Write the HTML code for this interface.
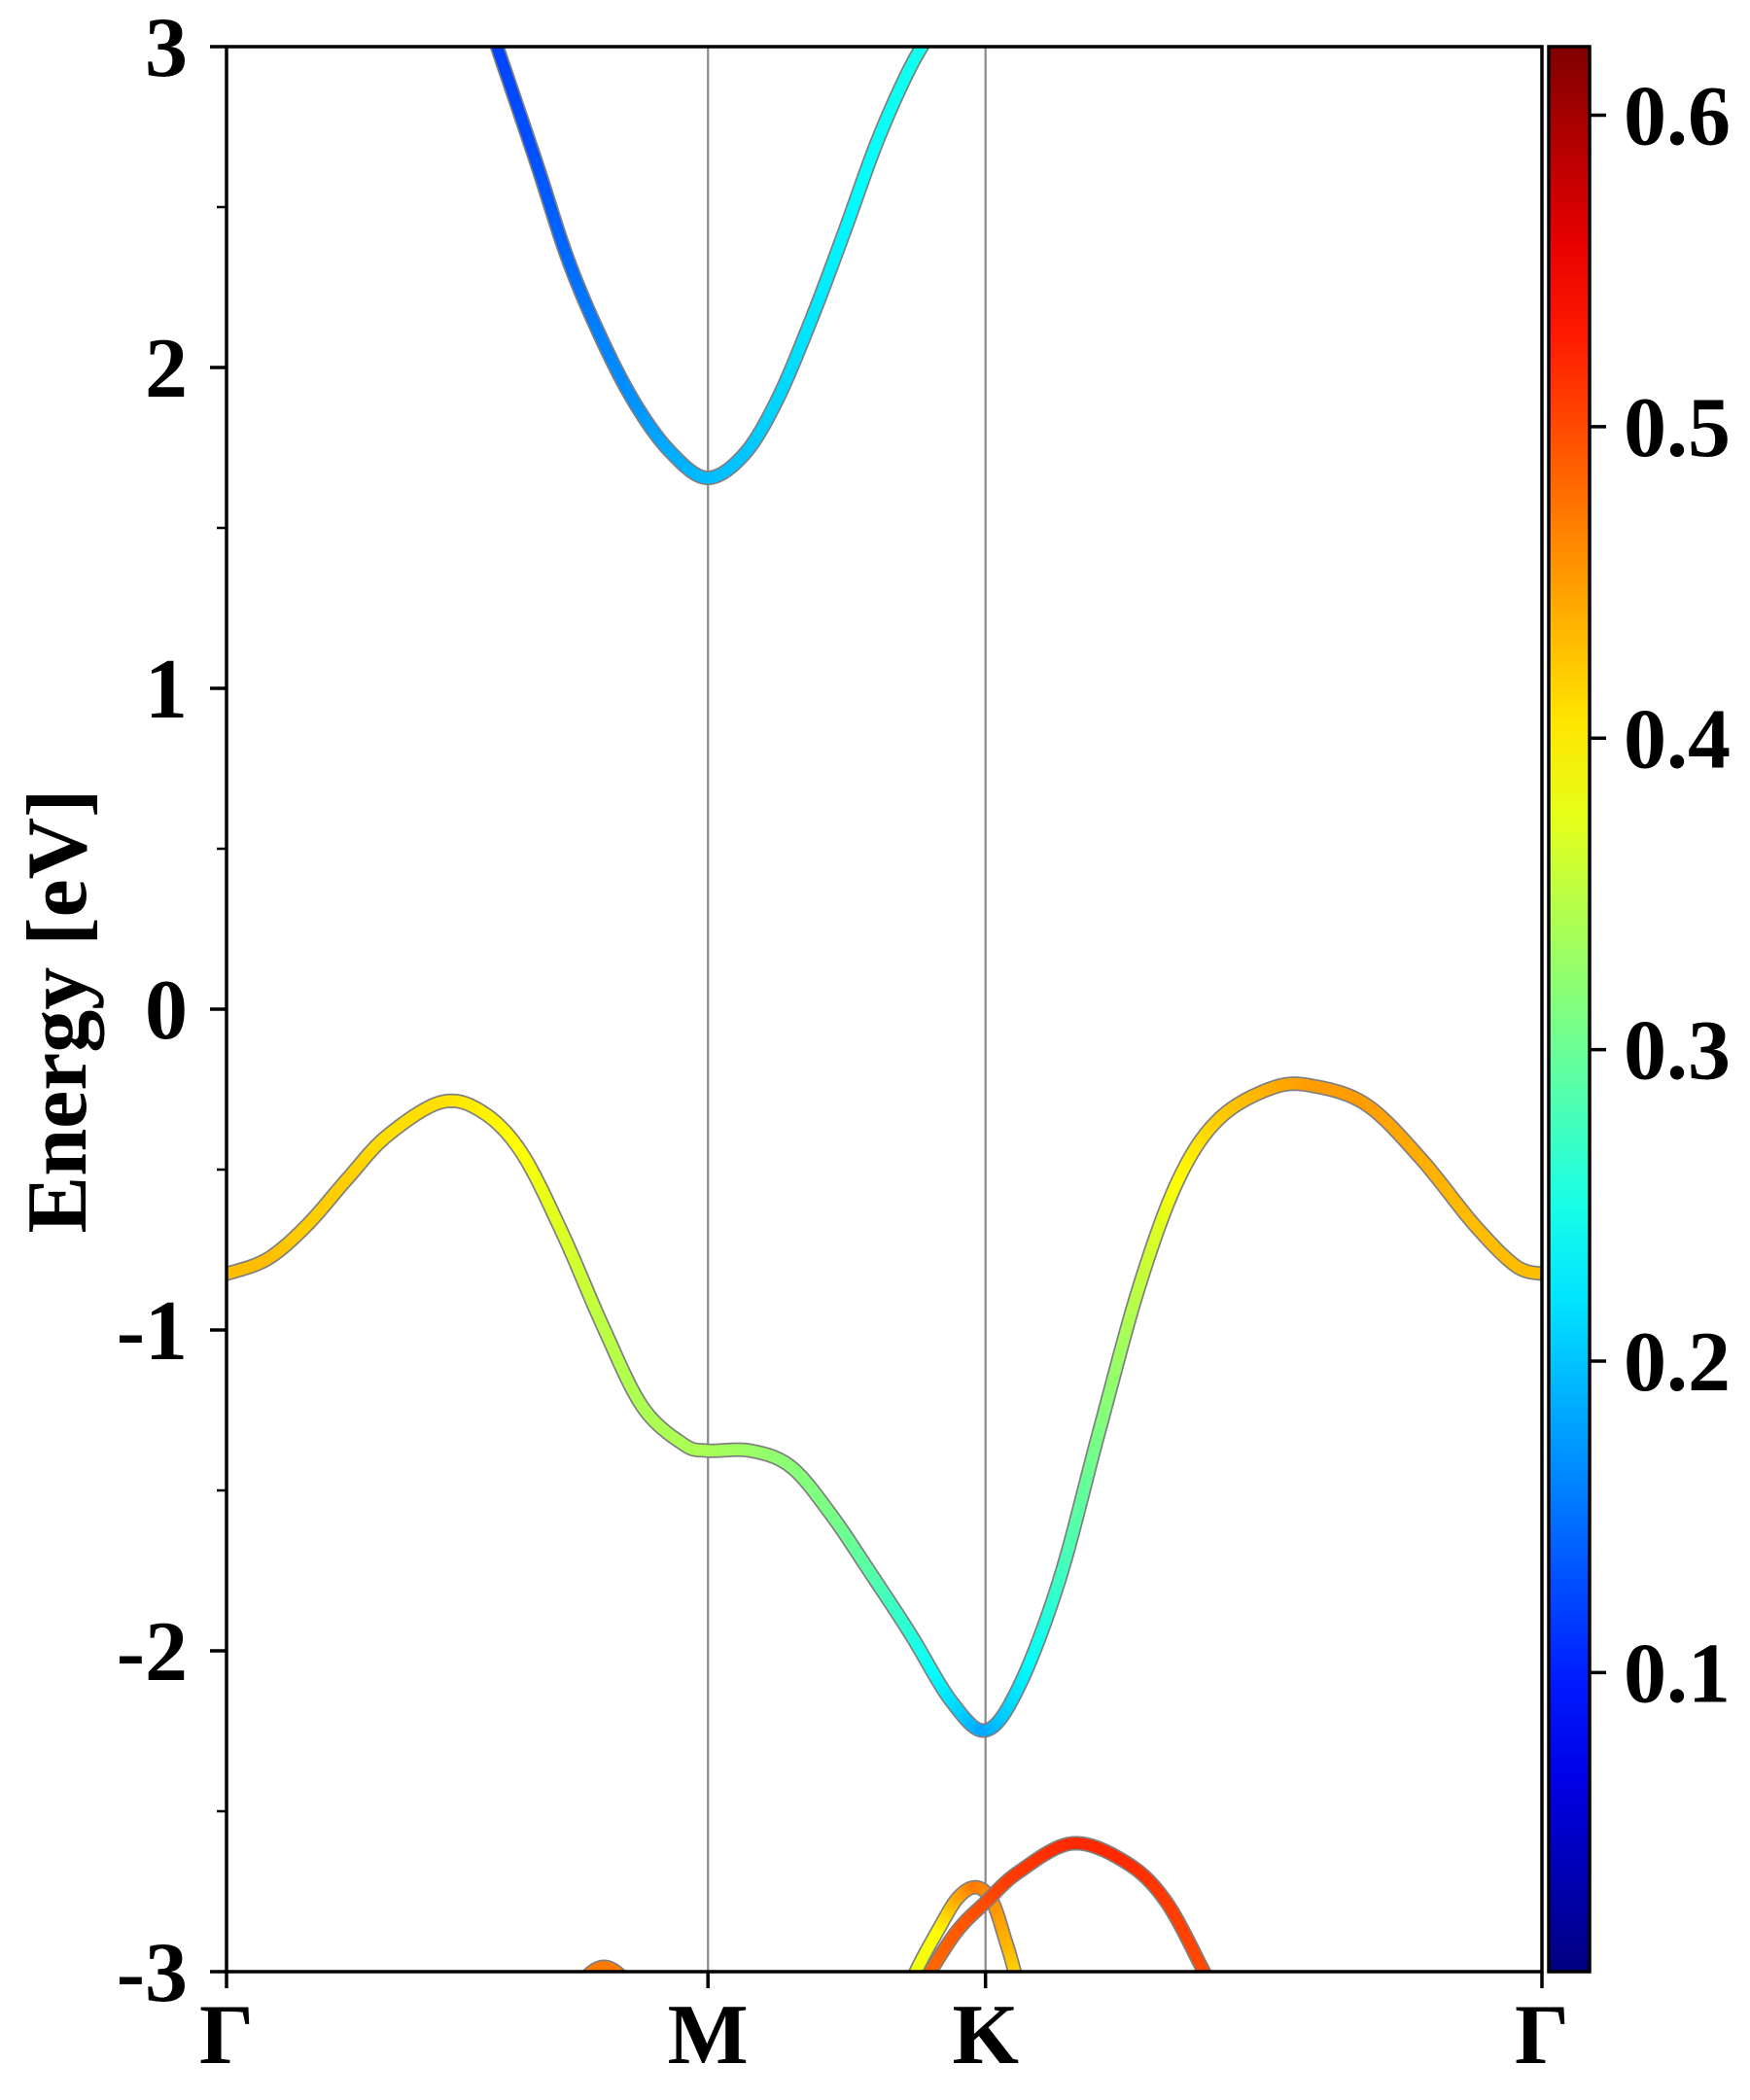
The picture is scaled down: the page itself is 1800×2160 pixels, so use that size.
<!DOCTYPE html>
<html><head><meta charset="utf-8"><style>
html,body{margin:0;padding:0;background:#fff}
svg{display:block}
text{font-family:"Liberation Serif","Times New Roman",serif;font-weight:bold;fill:#000}
</style></head><body>
<svg id="chart" width="1800" height="2160" viewBox="0 0 1800 2160" xmlns="http://www.w3.org/2000/svg">
<defs>
<clipPath id="plotclip"><rect x="233" y="48" width="1353" height="1980"/></clipPath>
<linearGradient id="jetgrad" x1="0" y1="1" x2="0" y2="0"></linearGradient>
</defs>
<g id="vlines"></g>
<g id="bands" clip-path="url(#plotclip)"></g>
<g id="axes"></g>
<g id="cbar"></g>
<text font-family="Liberation Serif, serif" font-weight="bold" transform="translate(88,1040) rotate(-90)" text-anchor="middle" font-size="88">Energy [eV]</text>
</svg>
<script>
const NS="http://www.w3.org/2000/svg";
// ---- data ----
const kTickLabels=["Γ","M","K","Γ"];
const kTickPos=[0,0.366,0.577,1];
const yTicks=[3,2,1,0,-1,-2,-3];
const yMinor=[2.5,1.5,0.5,-0.5,-1.5,-2.5];
const cbTicks=[0.1,0.2,0.3,0.4,0.5,0.6];
const cbMin=0.004, cbMax=0.622;
const condK=[0.204,0.235,0.260,0.286,0.311,0.337,0.365,0.393,0.418,0.444,0.469,0.495,0.520,0.541];
const condE=[3.02,2.645,2.332,2.081,1.885,1.739,1.656,1.727,1.894,2.144,2.415,2.708,2.937,3.08];
const condW=[0.12,0.13,0.145,0.16,0.17,0.185,0.195,0.2,0.21,0.22,0.23,0.24,0.245,0.25];
const valK=[0,0.031,0.061,0.092,0.122,0.163,0.194,0.224,0.255,0.286,0.316,0.347,0.365,0.398,0.429,0.459,0.490,0.520,0.551,0.577,0.602,0.633,0.663,0.694,0.724,0.755,0.796,0.827,0.867,0.908,0.949,0.980,1.0];
const valE=[-0.825,-0.779,-0.674,-0.528,-0.395,-0.290,-0.319,-0.445,-0.695,-0.987,-1.238,-1.355,-1.376,-1.376,-1.426,-1.572,-1.760,-1.948,-2.157,-2.248,-2.115,-1.781,-1.322,-0.862,-0.528,-0.340,-0.244,-0.240,-0.299,-0.466,-0.674,-0.800,-0.825];
const valW=[0.43,0.43,0.42,0.42,0.41,0.41,0.40,0.39,0.37,0.35,0.34,0.34,0.34,0.33,0.32,0.31,0.29,0.26,0.22,0.18,0.22,0.27,0.31,0.35,0.39,0.42,0.44,0.45,0.45,0.44,0.43,0.43,0.43];
const lowAK=[0.520,0.535,0.556,0.578,0.602,0.643,0.684,0.714,0.743,0.755];
const lowAE=[-3.1,-3.0,-2.87,-2.78,-2.69,-2.60,-2.66,-2.78,-3.0,-3.1];
const lowAW=[0.46,0.48,0.49,0.50,0.51,0.52,0.52,0.51,0.50,0.50];
const lowBK=[0.515,0.524,0.541,0.556,0.570,0.582,0.592,0.599,0.602];
const lowBE=[-3.1,-3.0,-2.87,-2.77,-2.737,-2.78,-2.9,-3.0,-3.08];
const lowBW=[0.40,0.38,0.39,0.44,0.47,0.46,0.44,0.42,0.42];
const lowCK=[0.262,0.275,0.287,0.299,0.312];
const lowCE=[-3.08,-3.01,-2.985,-3.01,-3.08];
const lowCW=[0.47,0.47,0.47,0.47,0.47];
// ---- scales ----
const X0=233,X1=1586,Y0=48,Y1=2028;
const xs=k=>X0+k*(X1-X0);
const ys=e=>Y1-(e+3)/6*(Y1-Y0);
const cs=v=>Y1-(v-cbMin)/(cbMax-cbMin)*(Y1-Y0);
function jet(v){
  let t=(v-cbMin)/(cbMax-cbMin);t=Math.max(0,Math.min(1,t));
  const f=x=>Math.max(0,Math.min(1,x));
  const r=f(1.5-Math.abs(4*t-3)),g=f(1.5-Math.abs(4*t-2)),b=f(1.5-Math.abs(4*t-1));
  return `rgb(${Math.round(r*255)},${Math.round(g*255)},${Math.round(b*255)})`;
}
function mk(tag,attrs,parent){const e=document.createElementNS(NS,tag);for(const a in attrs)e.setAttribute(a,attrs[a]);parent.appendChild(e);return e;}
const vl=document.getElementById('vlines');
[kTickPos[1],kTickPos[2]].forEach(k=>{
  const l=mk('line',{x1:xs(k),x2:xs(k),y1:Y0,y2:Y1,stroke:'#8a8a8a','stroke-width':2.2},vl);
  
  
});
const bandsG=document.getElementById('bands');
function drawBand(K,E,W,name){
  const g=mk('g',{},bandsG);
  
  
  const P=K.map((k,i)=>[xs(k),ys(E[i])]);
  const pts=[],wts=[];const N=12;
  for(let i=0;i<P.length-1;i++){
    const p0=P[Math.max(0,i-1)],p1=P[i],p2=P[i+1],p3=P[Math.min(P.length-1,i+2)];
    for(let j=0;j<N;j++){const t=j/N,t2=t*t,t3=t2*t;
      const c=(a,b,cc,d)=>0.5*((2*b)+(-a+cc)*t+(2*a-5*b+4*cc-d)*t2+(-a+3*b-3*cc+d)*t3);
      pts.push([c(p0[0],p1[0],p2[0],p3[0]),c(p0[1],p1[1],p2[1],p3[1])]);
      wts.push(W[i]+(W[i+1]-W[i])*t);}
  }
  pts.push(P[P.length-1]);wts.push(W[W.length-1]);
  mk('polyline',{points:pts.map(p=>p.join(',')).join(' '),fill:'none',stroke:'#808080','stroke-width':15,'stroke-linejoin':'round','stroke-linecap':'round'},g);
  for(let i=0;i<pts.length-1;i++){
    mk('line',{x1:pts[i][0],y1:pts[i][1],x2:pts[i+1][0],y2:pts[i+1][1],stroke:jet((wts[i]+wts[i+1])/2),'stroke-width':11.5,'stroke-linecap':'round'},g);
  }
}
drawBand(lowCK,lowCE,lowCW,'band-low-c');
drawBand(lowBK,lowBE,lowBW,'band-low-b');
drawBand(lowAK,lowAE,lowAW,'band-low-a');
drawBand(valK,valE,valW,'valence-band');
drawBand(condK,condE,condW,'conduction-band');
const ax=document.getElementById('axes');
const fr=mk('rect',{x:X0,y:Y0,width:X1-X0,height:Y1-Y0,fill:'none',stroke:'#000','stroke-width':3.5},ax);


const FF="Liberation Serif, serif";
yTicks.forEach(v=>{
  mk('line',{x1:X0-17,x2:X0,y1:ys(v),y2:ys(v),stroke:'#000','stroke-width':3.5},ax);
  const t=mk('text',{x:X0-40,y:ys(v)+30,'text-anchor':'end','font-size':88,'font-family':FF,'font-weight':'bold'},ax);
  t.textContent=String(v);
  
  
});
yMinor.forEach(v=>mk('line',{x1:X0-10,x2:X0,y1:ys(v),y2:ys(v),stroke:'#000','stroke-width':2.5},ax));
kTickPos.forEach((k,i)=>{
  mk('line',{x1:xs(k),x2:xs(k),y1:Y1,y2:Y1+17,stroke:'#000','stroke-width':3.5},ax);
  const t=mk('text',{x:xs(k),y:2122,'text-anchor':'middle','font-size':88,'font-family':FF,'font-weight':'bold'},ax);
  t.textContent=kTickLabels[i];
  
  
});
// colorbar
const cb=document.getElementById('cbar');
const grad=document.getElementById('jetgrad');
for(let i=0;i<=20;i++){const s=document.createElementNS(NS,'stop');s.setAttribute('offset',i/20);s.setAttribute('stop-color',jet(cbMin+(cbMax-cbMin)*i/20));grad.appendChild(s);}
const cr=mk('rect',{x:1593,y:Y0,width:42,height:Y1-Y0,fill:'url(#jetgrad)',stroke:'#000','stroke-width':3.5},cb);


cbTicks.forEach(v=>{
  mk('line',{x1:1635,x2:1652,y1:cs(v),y2:cs(v),stroke:'#000','stroke-width':3.5},cb);
  const t=mk('text',{x:1670,y:cs(v)+30,'font-size':88,'font-family':FF,'font-weight':'bold'},cb);
  t.textContent=v.toFixed(1);
  
  
});
</script>
</body></html>
